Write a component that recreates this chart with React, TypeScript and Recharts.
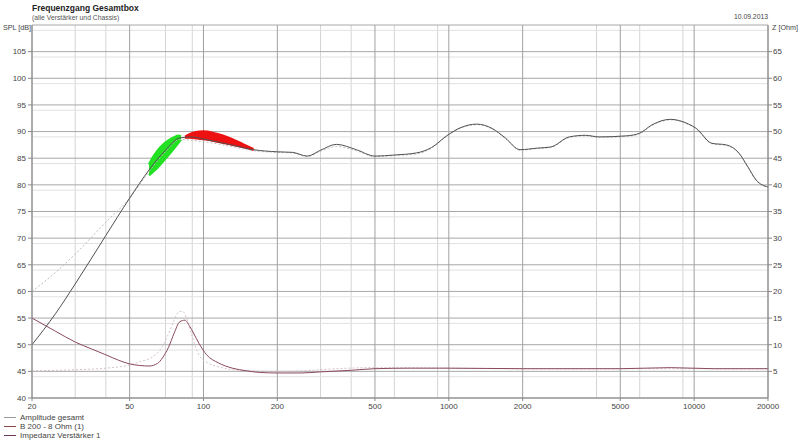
import { ComposedChart, Line, Area, XAxis, YAxis, CartesianGrid } from "recharts"

// frequency axis
const freqTicks = [20, 50, 100, 200, 500, 1000, 2000, 5000, 10000, 20000]
const gridFreqsMinor = [30, 40, 60, 70, 80, 90, 300, 400, 600, 700, 800, 900, 3000, 4000, 6000, 7000, 8000, 9000]
const gridFreqsMajor = [20, 50, 100, 200, 500, 1000, 2000, 5000, 10000, 20000]

const splTicks = [40, 45, 50, 55, 60, 65, 70, 75, 80, 85, 90, 95, 100, 105]
const splGridMinor = Array.from({ length: 71 }, (_, i) => 40 + i).filter((v) => v % 5 !== 0)
const splGridMajor = [40, 45, 50, 55, 60, 65, 70, 75, 80, 85, 90, 95, 100, 105, 110]
const zTicks = [5, 10, 15, 20, 25, 30, 35, 40, 45, 50, 55, 60, 65]

// Amplitude gesamt (SPL, solid)
const ampFreq = [20, 25, 30, 40, 50, 60, 70, 80, 90, 100, 130, 160, 200, 230, 265, 300, 348, 420, 500, 600, 740, 850, 980, 1100, 1300, 1500, 1700, 1950, 2300, 2600, 3100, 3600, 4100, 5300, 6000, 6700, 8000, 9500, 10200, 11800, 13500, 15200, 16500, 17900, 20000]
const ampSpl = [50, 55.9, 61.4, 70.5, 77.5, 82.8, 86.5, 88.8, 89, 88.6, 87.5, 86.6, 86.2, 86.1, 85.4, 86.5, 87.6, 86.6, 85.4, 85.6, 86, 87, 89.2, 90.6, 91.4, 90.6, 88.8, 86.6, 86.9, 87.1, 89, 89.3, 89, 89.2, 89.7, 91.2, 92.3, 91.4, 90.6, 87.8, 87.5, 86, 83.5, 80.9, 79.6]

// dotted SPL curve
const dotFreq = [20, 25, 30, 40, 50, 60, 70, 80, 100, 130, 160, 200, 230, 265, 300, 348, 420, 500, 600, 740, 850, 980, 1100, 1300, 1500, 1700, 1950, 2300, 2600, 3100, 3600, 4100, 5300, 6000, 6700, 8000, 9500, 10200, 11800, 13500, 15200, 16500, 17900, 20000]
const dotSpl = [60, 63.6, 67, 73, 77.5, 82.5, 86.2, 88.5, 88.1, 87.2, 86.4, 86.1, 86, 85.3, 86.3, 87.2, 86.4, 85.3, 85.5, 85.8, 86.9, 89.1, 90.5, 91.3, 90.5, 88.7, 86.5, 86.8, 87, 88.9, 89.2, 88.9, 89.1, 89.6, 91.1, 92.2, 91.3, 90.5, 87.7, 87.4, 85.9, 83.4, 80.8, 79.5]

// B 200 - 8 Ohm (1) impedance, solid
const impFreq = [20, 25, 30, 35, 40, 45, 50, 55, 60, 65, 68, 72, 76, 80, 84, 88, 91, 96, 103, 115, 131, 150, 169, 200, 250, 300, 400, 500, 700, 1000, 2000, 5000, 8000, 12000, 20000]
const impZ = [15, 12.5, 10.5, 9.2, 8.1, 7.1, 6.4, 6.1, 6.0, 6.5, 7.5, 9.5, 12.2, 14.3, 14.6, 13.4, 12.2, 10.2, 8.1, 6.6, 5.6, 5.1, 4.8, 4.7, 4.7, 4.9, 5.2, 5.5, 5.6, 5.6, 5.5, 5.5, 5.7, 5.5, 5.5]

// Impedanz Verstärker 1, dotted
const impDotFreq = [20, 30, 40, 50, 55, 62, 67, 71, 75, 79, 82, 85, 90, 96, 105, 116, 140, 200, 250, 350, 500, 1000, 2000, 5000, 10000, 20000]
const impDotZ = [5.1, 5.3, 5.6, 6.2, 6.8, 7.7, 9.2, 11.4, 14, 16.1, 16.3, 15.2, 11.5, 8, 6.5, 5.8, 5.2, 5.0, 5.1, 5.5, 5.7, 5.6, 5.5, 5.5, 5.5, 5.5]

// highlighted bands
const greenFreq = [60, 62, 65, 68, 72, 76, 79, 81]
const greenLo = [81.8, 82.4, 83.3, 84.3, 85.6, 86.9, 87.9, 88.5]
const greenHi = [83.8, 85.0, 86.4, 87.4, 88.3, 88.9, 89.2, 89.1]
const redFreq = [84, 88, 92, 100, 110, 120, 130, 145, 160]
const redLo = [88.8, 88.8, 88.7, 88.5, 88.2, 87.8, 87.5, 87.0, 86.5]
const redHi = [89.1, 89.6, 89.9, 90.1, 89.8, 89.3, 88.7, 87.7, 86.8]

const zip = (xs: number[], ys: number[]) => xs.map((f, i) => ({ f, v: ys[i] }))
const zipRange = (xs: number[], lo: number[], hi: number[]) => xs.map((f, i) => ({ f, r: [lo[i], hi[i]] }))

const legendItems = [
  { name: "Amplitude gesamt", color: "#9a9a9a" },
  { name: "B 200 - 8 Ohm (1)", color: "#8a4a4a" },
  { name: "Impedanz Verstärker 1", color: "#6a3a5a" },
]

const tickStyle = { fontSize: 8, fill: "#444" }

export default function App() {
  return (
    <div style={{ position: "absolute", left: 0, top: 0, width: 800, height: 440, background: "#fff", fontFamily: "'Liberation Sans', Arial, sans-serif" }}>
      <ComposedChart width={800} height={440} margin={{ top: 25, right: 0, bottom: 30, left: 0 }}>
        <CartesianGrid horizontal={false} verticalValues={gridFreqsMinor} stroke="#d4d4d4" />
        <CartesianGrid vertical={false} horizontalValues={splGridMinor} stroke="#e2e2e2" />
        <CartesianGrid vertical={false} horizontalValues={splGridMajor} stroke="#a8a8a8" />
        <CartesianGrid horizontal={false} verticalValues={gridFreqsMajor} stroke="#a0a0a0" />
        <XAxis
          dataKey="f"
          type="number"
          scale="log"
          domain={[20, 20000]}
          ticks={freqTicks}
          allowDataOverflow
          tick={tickStyle}
          tickSize={3}
          tickMargin={2}
          height={12}
          stroke="#888"
        />
        <YAxis
          type="number"
          domain={[40, 110]}
          ticks={splTicks}
          allowDataOverflow
          width={32}
          tick={tickStyle}
          tickSize={4}
          tickMargin={2}
          stroke="#888"
        />
        <YAxis
          yAxisId="z"
          orientation="right"
          type="number"
          domain={[0, 70]}
          ticks={zTicks}
          allowDataOverflow
          width={32}
          tick={tickStyle}
          tickSize={4}
          tickMargin={1}
          stroke="#888"
        />
        <Line data={zip(dotFreq, dotSpl)} dataKey="v" type="monotone" stroke="#bdbdbd" strokeDasharray="2 2" strokeWidth={1} dot={false} isAnimationActive={false} />
        <Line data={zip(impDotFreq, impDotZ)} dataKey="v" yAxisId="z" type="monotone" stroke="#d6c2c8" strokeDasharray="2 2" strokeWidth={1} dot={false} isAnimationActive={false} />
        <Line data={zip(impFreq, impZ)} dataKey="v" yAxisId="z" type="monotone" stroke="#8a4a5a" strokeWidth={1} dot={false} isAnimationActive={false} />
        <Line data={zip(ampFreq, ampSpl)} dataKey="v" type="monotone" stroke="#505050" strokeWidth={1} dot={false} isAnimationActive={false} />
        <Area data={zipRange(greenFreq, greenLo, greenHi)} dataKey="r" type="monotone" stroke="#22e022" strokeWidth={2.5} fill="#22e022" fillOpacity={1} isAnimationActive={false} />
        <Area data={zipRange(redFreq, redLo, redHi)} dataKey="r" type="monotone" stroke="#ee1111" strokeWidth={1.5} fill="#ee1111" fillOpacity={1} isAnimationActive={false} />
      </ComposedChart>

      <div style={{ position: "absolute", left: 32, top: 3, fontSize: 8.5, fontWeight: "bold", color: "#222", whiteSpace: "nowrap" }}>Frequenzgang Gesamtbox</div>
      <div style={{ position: "absolute", left: 32, top: 14, fontSize: 6.8, color: "#555", whiteSpace: "nowrap" }}>(alle Verstärker und Chassis)</div>
      <div style={{ position: "absolute", right: 32, top: 13, fontSize: 6.8, color: "#444", whiteSpace: "nowrap" }}>10.09.2013</div>
      <div style={{ position: "absolute", left: 3, top: 23, fontSize: 7.2, color: "#444", whiteSpace: "nowrap" }}>SPL [dB]</div>
      <div style={{ position: "absolute", left: 772, top: 23, fontSize: 7.2, color: "#444", whiteSpace: "nowrap" }}>Z [Ohm]</div>

      <div style={{ position: "absolute", left: 4, top: 413, fontSize: 8, color: "#444", lineHeight: "9px", whiteSpace: "nowrap" }}>
        {legendItems.map((it) => (
          <div key={it.name} style={{ display: "flex", alignItems: "center" }}>
            <span style={{ display: "inline-block", width: 12, height: 1, background: it.color, marginRight: 4 }} />
            {it.name}
          </div>
        ))}
      </div>
    </div>
  )
}
